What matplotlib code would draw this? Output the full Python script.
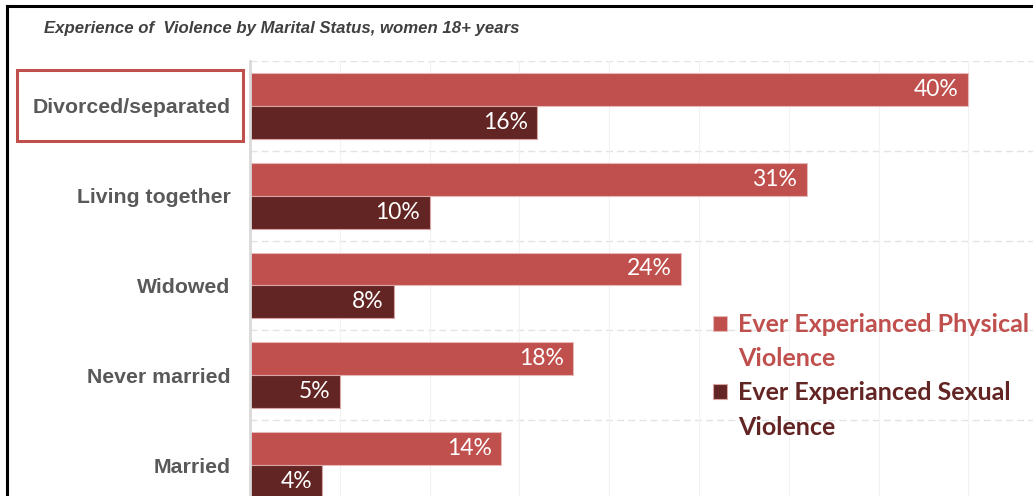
import matplotlib.pyplot as plt
import matplotlib.transforms as mtransforms
from matplotlib.patches import Rectangle, Patch
from matplotlib.lines import Line2D
import numpy as np

categories = ['Divorced/separated', 'Living together', 'Widowed', 'Never married', 'Married']
physical = [40, 31, 24, 18, 14]
sexual = [16, 10, 8, 5, 4]

c_phys = '#c0504d'
c_sex = '#632523'

W, H = 1033, 496
fig = plt.figure(figsize=(W / 100, H / 100), dpi=100)
ax = fig.add_axes([250 / W, 0, 1 - 250 / W, 1 - 61 / H])

y = np.arange(len(categories))
bh = 0.367
b1 = ax.barh(y - bh / 2, physical, height=bh, color=c_phys, edgecolor='#e6b9b8', linewidth=0.8)
b2 = ax.barh(y + bh / 2, sexual, height=bh, color=c_sex, edgecolor='#d9a5a4', linewidth=0.8)

for bars, vals in ((b1, physical), (b2, sexual)):
    for rect, v in zip(bars, vals):
        ax.annotate('{}%'.format(v), (v, rect.get_y() + rect.get_height() / 2),
                    xytext=(-7, 0), textcoords='offset points', ha='right', va='center',
                    color='white', fontsize=16.5, family='Lato', fontweight='normal')

ax.set_xlim(0, 43.6)
ax.set_ylim(4.345, -0.5)
ax.set_xticks(np.arange(5, 45, 5))
ax.set_yticks(y)
ax.set_yticklabels(categories, fontsize=15.3, fontweight='bold', color='#595959',
                   family='Liberation Sans')
ax.tick_params(axis='y', length=0, pad=14)
ax.tick_params(axis='x', length=0, labelbottom=False)
ax.grid(axis='x', color='#f2f2f2', linewidth=0.8)
for b in np.arange(-0.5, 4, 1):
    ax.axhline(b, color='#e3e3e3', linewidth=1, linestyle=(0, (5, 3)), zorder=0)
ax.set_axisbelow(True)
for s in ('top', 'right', 'bottom'):
    ax.spines[s].set_visible(False)
ax.spines['left'].set_color('#d9d9d9')
ax.spines['left'].set_linewidth(2)

fig.text(44 / W, 1 - 29 / H, 'Experience of  Violence by Marital Status, women 18+ years',
         fontsize=12.1, fontweight='bold', style='italic', color='#404040',
         family='Liberation Sans', va='center')

# box around the first category
trans = mtransforms.blended_transform_factory(fig.transFigure, ax.transData)
ax.add_patch(Rectangle((17 / W, -0.40), (243 - 17) / W, 0.79, transform=trans,
                       fill=False, edgecolor=c_phys, linewidth=2.2, clip_on=False))

blank = Patch(alpha=0)
leg = ax.legend([b1, blank, b2, blank],
                ['Ever Experianced Physical', 'Violence', 'Ever Experianced Sexual', 'Violence'],
                loc='upper left', bbox_to_anchor=(713 / W, 1 - 313 / H),
                bbox_transform=fig.transFigure, frameon=False,
                prop={'family': 'Lato', 'weight': 'bold', 'size': 18},
                handlelength=0.55, handleheight=0.55, handletextpad=0.45, labelspacing=0.45,
                borderpad=0, borderaxespad=0)
for t, col in zip(leg.get_texts(), [c_phys, c_phys, c_sex, c_sex]):
    t.set_color(col)

# black frame on the left and top
fig.add_artist(Line2D([7 / W, 7 / W], [0, 1 - 6 / H], color='black', linewidth=2.2))
fig.add_artist(Line2D([7 / W, 1], [1 - 6 / H, 1 - 6 / H], color='black', linewidth=2.2))

fig.savefig('out.png', dpi=100)
